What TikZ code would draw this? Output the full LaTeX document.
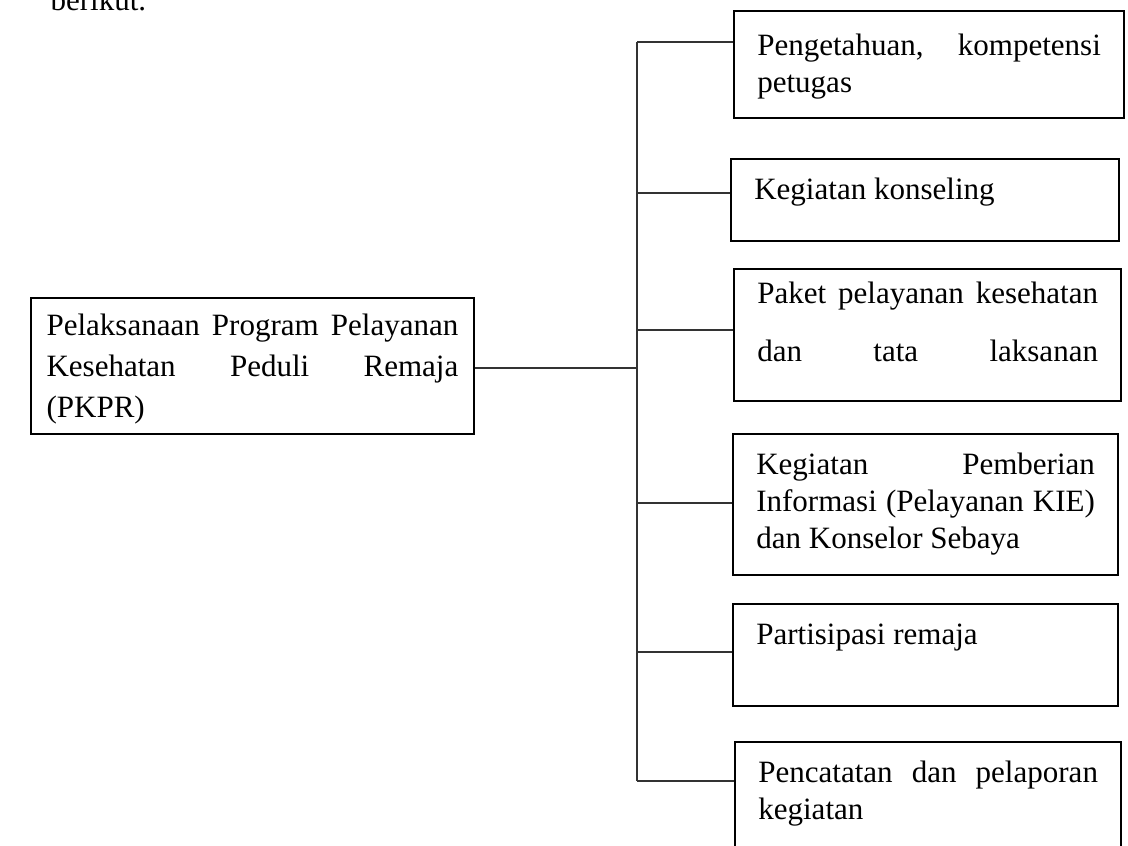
\documentclass[tikz,border=0pt]{standalone}
\usepackage{fontspec}
\setmainfont{Liberation Serif}
\usetikzlibrary{positioning, calc}

\begin{document}
\begin{tikzpicture}[x=0.0136cm, y=-0.0136cm,
  txt/.style={font=\fontsize{12pt}{14.3pt}\selectfont},
  box/.style={draw, line width=0.8pt, anchor=north west, align=justify,
              inner xsep=7pt, inner ysep=4pt, text height=11.5pt, txt},
  leaf/.style={box, inner xsep=9pt},
  link/.style={line width=0.6pt, black!80}]
  \useasboundingbox (0,0) rectangle (1128,845);
  \clip (0,0) rectangle (1128,845);

  % Text left over from the page above
  \node[txt, anchor=base west, inner sep=0pt] (intro) at (50,10) {berikut.};

  % Root box
  \node[box, inner xsep=6pt, text width=159.3pt, text height=10.5pt, text depth=34.1pt,
        font=\fontsize{12pt}{15.9pt}\selectfont] (pkpr) at (30,297)
    {Pelaksanaan Program Pelayanan\linebreak Kesehatan Peduli Remaja\linebreak (PKPR)};

  % Leaf boxes
  \node[leaf, text width=132.9pt, text height=13.2pt, text depth=20.2pt] (petugas) at (733,10)
    {Pengetahuan, kompetensi\linebreak petugas};
  \node[leaf, text width=132.2pt, text depth=12.2pt] (konseling) at (730,158)
    {Kegiatan konseling};
  \node[leaf, text width=131.8pt, text height=9.5pt, text depth=33.6pt,
        font=\fontsize{12pt}{22.4pt}\selectfont] (paket) at (733,268)
    {Paket pelayanan kesehatan\linebreak dan tata laksanan\parfillskip=0pt\par};
  \node[leaf, text width=131pt, text depth=35.1pt] (kie) at (732,433)
    {Kegiatan Pemberian\linebreak Informasi (Pelayanan KIE)\linebreak dan Konselor Sebaya};
  \node[leaf, text width=131pt, text depth=20pt] (partisipasi) at (732,603)
    {Partisipasi remaja};
  \node[leaf, text width=131.4pt, text depth=30.4pt] (pencatatan) at (734,741)
    {Pencatatan dan pelaporan\linebreak kegiatan};

  % Connectors
  \coordinate (hub) at (637,368);
  \draw[link] (pkpr.east |- hub) -- (hub);
  \foreach \y/\n in {42/petugas, 193/konseling, 330/paket, 503/kie,
                     652/partisipasi, 781/pencatatan} {
    \coordinate (b-\n) at (637,\y);
    \draw[link] (b-\n) -- (b-\n -| \n.west);
  }
  \draw[link] (b-petugas) -- (b-pencatatan);
\end{tikzpicture}
\end{document}
